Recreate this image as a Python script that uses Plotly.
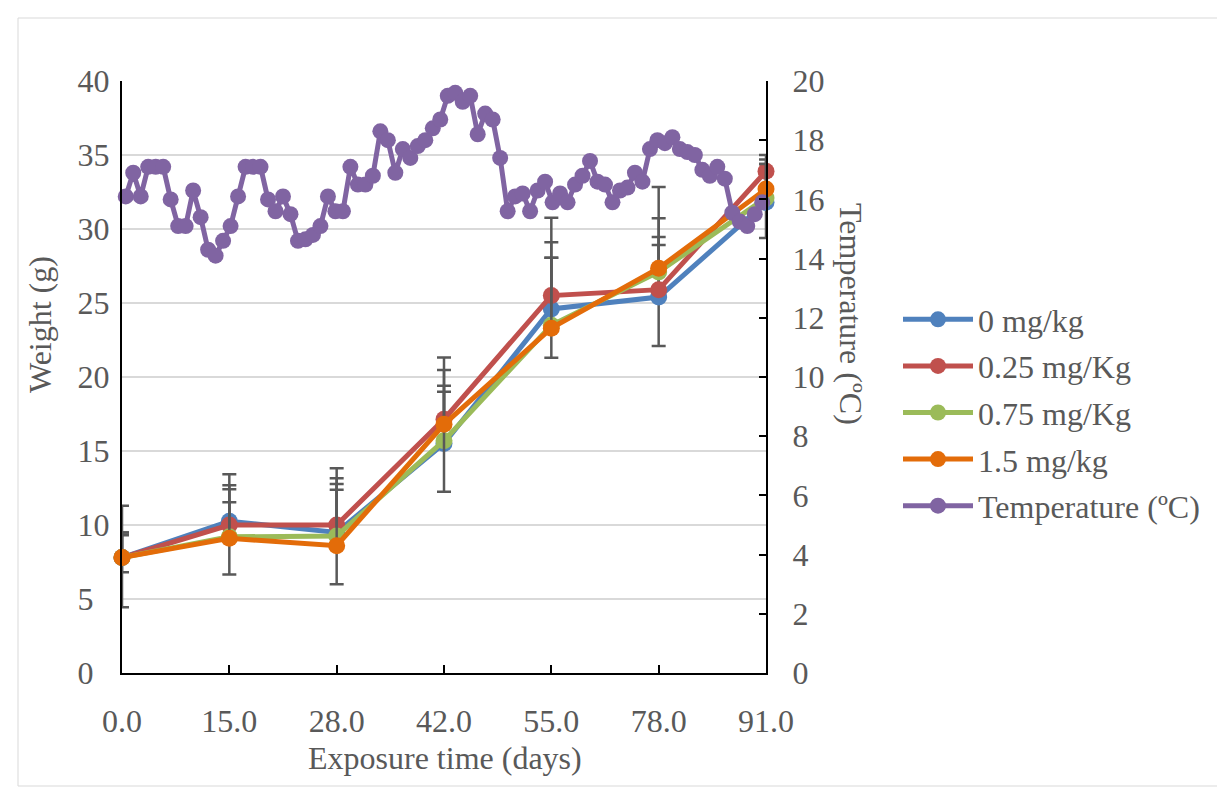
import plotly.graph_objects as go

# ---------------- data ----------------
day_labels = ["0.0", "15.0", "28.0", "42.0", "55.0", "78.0", "91.0"]
series_names = ["0 mg/kg", "0.25 mg/Kg", "0.75 mg/Kg", "1.5 mg/kg"]

w_0 = [7.8, 10.25, 9.5, 15.5, 24.6, 25.4, 31.8]
w_025 = [7.8, 10.0, 10.0, 17.15, 25.5, 25.9, 33.9]
w_075 = [7.8, 9.2, 9.26, 15.7, 23.5, 27.1, 32.1]
w_15 = [7.8, 9.1, 8.6, 16.8, 23.3, 27.35, 32.7]

err_plus_0 = [3.5, 3.18, 3.66, 3.5, 4.5, 3.52, 2.6]
err_minus_0 = [3.35, 3.6, 0, 0, 3.3, 3.3, 2.4]
err_plus_025 = [1.7, 2.68, 3.83, 4.17, 5.26, 3.56, 1.1]
err_minus_025 = [1.0, 0, 4.01, 0, 0, 0, 0]
err_plus_075 = [1.7, 3.21, 3.51, 4.77, 4.56, 3.62, 2.3]
err_minus_075 = [0, 0, 0, 0, 0, 0, 0]
err_plus_15 = [1.5, 2.43, 3.79, 2.61, 4.76, 5.48, 2.0]
err_minus_15 = [0, 0, 0, 4.55, 0, 0, 0]

temperature = [
    16.1, 16.9, 16.1, 17.1, 17.1, 17.1, 16.0, 15.1, 15.1, 16.3,
    15.4, 14.3, 14.1, 14.6, 15.1, 16.1, 17.1, 17.1, 17.1, 16.0,
    15.6, 16.1, 15.5, 14.6, 14.65, 14.8, 15.1, 16.1, 15.6, 15.6,
    17.1, 16.5, 16.5, 16.8, 18.3, 18.0, 16.9, 17.7, 17.4, 17.8,
    18.0, 18.4, 18.7, 19.5, 19.6, 19.3, 19.5, 18.2, 18.9, 18.7,
    17.4, 15.6, 16.1, 16.2, 15.6, 16.3, 16.6, 15.9, 16.2, 15.9,
    16.5, 16.8, 17.3, 16.6, 16.5, 15.9, 16.3, 16.4, 16.9, 16.6,
    17.7, 18.0, 17.9, 18.1, 17.7, 17.6, 17.5, 17.0, 16.8, 17.1,
    16.7, 15.55, 15.25, 15.1, 15.5, 15.9,
]
temp_index = list(range(len(temperature)))

colors = ["#4F81BD", "#C0504D", "#9BBB59", "#E36C09"]
temp_color = "#8064A2"

FONT = "Liberation Serif, Times New Roman, serif"
TXT = "#595959"
FS = 32

# ---------------- geometry (window pixels; page body has an 8px margin) ----------------
OFF = 8
W, H = 1225 - OFF, 803 - OFF
L, R, T, B = 122, 766, 81, 673      # plot area in window pixels
pw, ph = R - L, B - T

def px(xp):
    return (xp - L) / pw

def py(yp):
    return (B - yp) / ph

fig = go.Figure()
cat_x = list(range(len(day_labels)))
weights = [w_0, w_025, w_075, w_15]
eplus = [err_plus_0, err_plus_025, err_plus_075, err_plus_15]
eminus = [err_minus_0, err_minus_025, err_minus_075, err_minus_15]

for i, name in enumerate(series_names):
    fig.add_trace(go.Scatter(
        x=cat_x, y=weights[i], name=name, mode="lines+markers",
        line=dict(color=colors[i], width=5),
        marker=dict(color=colors[i], size=17),
        error_y=dict(type="data", array=eplus[i], arrayminus=eminus[i],
                     symmetric=False, color="#595959", thickness=2.5, width=7),
        cliponaxis=False, legendgroup=name,
        xaxis="x", yaxis="y",
    ))

fig.add_trace(go.Scatter(
    x=temp_index, y=temperature, name="Temperature (ºC)", mode="lines+markers",
    line=dict(color=temp_color, width=5),
    marker=dict(color=temp_color, size=16),
    cliponaxis=False, legendgroup="temp",
    xaxis="x2", yaxis="y2",
))

w_ticks = list(range(0, 41, 5))
w_ticktext = [str(v) if v >= 10 else str(v) + "\u2002" for v in w_ticks]
t_ticks = list(range(0, 21, 2))

fig.update_layout(
    width=W, height=H,
    margin=dict(l=L - OFF, r=W - (R - OFF), t=T - OFF, b=H - (B - OFF)),
    paper_bgcolor="white", plot_bgcolor="white",
    font=dict(family=FONT, size=FS, color=TXT),
    showlegend=True,
    legend=dict(x=px(898), y=py(292), xanchor="left", yanchor="top",
                font=dict(family=FONT, size=FS, color=TXT),
                itemwidth=70, tracegroupgap=2, bgcolor="rgba(0,0,0,0)"),
    xaxis=dict(range=[0, len(day_labels) - 1], tickvals=cat_x, ticktext=day_labels,
               showline=True, linecolor="black", linewidth=2,
               ticks="inside", ticklen=8, tickwidth=2, tickcolor="black",
               showgrid=False, zeroline=False,
               tickfont=dict(family=FONT, size=FS, color=TXT),
               ticklabelstandoff=19),
    yaxis=dict(range=[0, 40], tickvals=w_ticks, ticktext=w_ticktext,
               showline=True, linecolor="black", linewidth=2, ticks="",
               showgrid=True, gridcolor="#D9D9D9", gridwidth=2, zeroline=False,
               tickfont=dict(family=FONT, size=FS, color=TXT),
               ticklabelstandoff=4),
    xaxis2=dict(overlaying="x", anchor="y2", range=[-0.5, len(temperature) - 0.5],
                visible=False),
    yaxis2=dict(overlaying="y", anchor="x2", side="right", range=[0, 20],
                tickvals=t_ticks, showline=True, linecolor="black", linewidth=2,
                ticks="inside", ticklen=7, tickwidth=2, tickcolor="black",
                showgrid=False, zeroline=False,
                tickfont=dict(family=FONT, size=FS, color=TXT),
                ticklabelstandoff=18),
    annotations=[
        dict(text="Weight (g)", x=px(40), y=py(325), xref="paper", yref="paper",
             xanchor="center", yanchor="middle",
             showarrow=False, textangle=-90, font=dict(family=FONT, size=FS, color=TXT)),
        dict(text="Temperature (ºC)", x=px(851), y=py(314), xref="paper", yref="paper",
             xanchor="center", yanchor="middle",
             showarrow=False, textangle=90, font=dict(family=FONT, size=FS, color=TXT)),
        dict(text="Exposure time (days)", x=px(444.5), y=py(758), xref="paper", yref="paper",
             xanchor="center", yanchor="middle",
             showarrow=False, font=dict(family=FONT, size=FS, color=TXT)),
    ],
    shapes=[dict(type="rect", xref="paper", yref="paper",
                 x0=px(18), x1=px(1222), y0=py(786), y1=py(18),
                 line=dict(color="#D9D9D9", width=1), fillcolor="rgba(0,0,0,0)",
                 layer="below")],
)

fig.write_html("out.html")
